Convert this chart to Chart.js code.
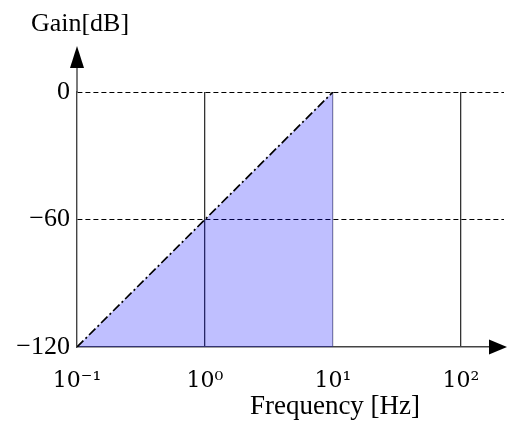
<!DOCTYPE html>
<html>
<head>
<meta charset="utf-8">
<script src="https://cdn.jsdelivr.net/npm/chart.js@4.4.1/dist/chart.umd.min.js"></script>
<style>
  html,body{margin:0;padding:0;background:#fff;}
  #wrap{width:508px;height:423px;position:relative;}
</style>
</head>
<body>
<div id="wrap"><canvas id="bode"></canvas></div>
<script>
// asymptote: -120 dB at 0.1 Hz rising to 0 dB at 10 Hz
const freq = [0.1, 10];
const gain = [-120, 0];

const xTicks = [0.1, 1, 10, 100];
const xTickLabels = ['10⁻¹', '10⁰', '10¹', '10²'];
const yTicks = [-120, -60, 0];
const yTickLabels = ['−120', '−60', '0'];

const xTitle = 'Frequency [Hz]';
const yTitle = 'Gain[dB]';

const serif = "'Liberation Serif', 'DejaVu Serif', serif";
// DejaVu has every superscript glyph, so the powers look alike
const supSerif = "'DejaVu Serif', serif";

// arrows at axis ends + axis titles
const axisDeco = {
  id: 'axisDeco',
  afterDraw(chart){
    const {ctx, chartArea:a} = chart;
    ctx.save();
    ctx.strokeStyle = '#444';
    ctx.lineWidth = 1.4;
    ctx.beginPath();
    ctx.moveTo(a.left, a.top);
    ctx.lineTo(a.left, 66);
    ctx.stroke();
    ctx.fillStyle = '#000';
    ctx.beginPath();
    ctx.moveTo(a.left, 46);
    ctx.lineTo(a.left - 7, 68);
    ctx.lineTo(a.left + 7, 68);
    ctx.closePath();
    ctx.fill();
    ctx.beginPath();
    ctx.moveTo(507, a.bottom);
    ctx.lineTo(489, a.bottom - 7.5);
    ctx.lineTo(489, a.bottom + 7.5);
    ctx.closePath();
    ctx.fill();

    ctx.textAlign = 'center';
    ctx.textBaseline = 'alphabetic';
    ctx.font = "26px " + serif;
    ctx.fillText(yTitle, 80, 31);
    ctx.font = "27px " + serif;
    ctx.fillText(xTitle, 335, 414);
    ctx.restore();
  }
};

new Chart(document.getElementById('bode'), {
  type: 'line',
  data: {
    datasets: [{
      data: freq.map((f,i)=>({x:f, y:gain[i]})),
      borderColor: '#000',
      borderWidth: 1.7,
      borderDash: [9,3,2,3],
      backgroundColor: 'rgba(0,0,255,0.25)',
      fill: 'start',
      pointRadius: 0,
      tension: 0
    }]
  },
  options: {
    responsive: true,
    maintainAspectRatio: false,
    animation: false,
    layout: { padding: { top: 92, right: 4, left: 0, bottom: 0 } },
    plugins: { legend: { display: false }, tooltip: { enabled: false } },
    scales: {
      x: {
        type: 'logarithmic',
        min: 0.1,
        max: 217,
        afterBuildTicks: s => { s.ticks = xTicks.map(v => ({value: v, major: false})); },
        afterFit: s => { s.height = 76; },
        ticks: {
          autoSkip: false,
          maxRotation: 0,
          padding: 21,
          color: '#000',
          font: { family: supSerif, size: 22 },
          callback: (v, i) => xTickLabels[i]
        },
        grid: {
          drawTicks: false,
          lineWidth: 1.3,
          color: c => {
            const v = c.tick && c.tick.value;
            if (v === 0.1) return 'rgba(0,0,0,0)';
            if (v === 10) return '#999';
            return '#333';
          }
        },
        border: { color: '#444', width: 1.4 }
      },
      y: {
        min: -120,
        max: 0,
        afterBuildTicks: s => { s.ticks = yTicks.map(v => ({value: v})); },
        afterFit: s => { s.width = 77; },
        ticks: {
          padding: 7,
          color: '#000',
          font: { family: serif, size: 26 },
          callback: v => yTickLabels[yTicks.indexOf(v)]
        },
        grid: {
          drawTicks: false,
          lineWidth: 1,
          color: c => (c.tick && c.tick.value === -120) ? 'rgba(0,0,0,0)' : '#000'
        },
        border: { color: '#444', width: 1.4, dash: [5,3] }
      }
    }
  },
  plugins: [axisDeco]
});
</script>
</body>
</html>
